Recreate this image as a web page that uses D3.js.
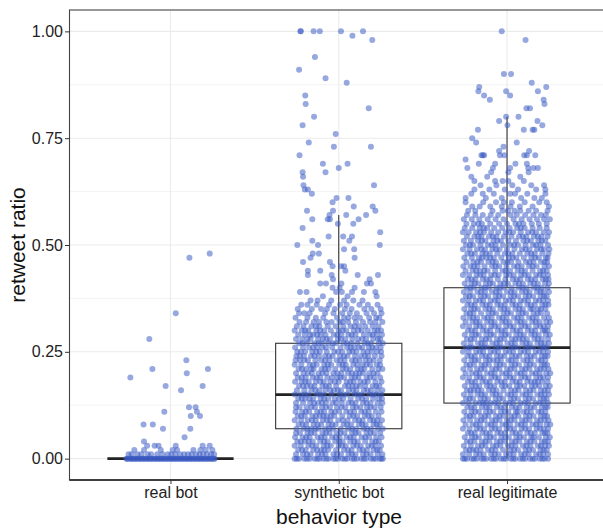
<!DOCTYPE html>
<html>
<head>
<meta charset="utf-8">
<script src="https://cdn.jsdelivr.net/npm/d3@7"></script>
<style>
  body { margin: 0; background: #fff; }
  svg text { font-family: "Liberation Sans", Arial, Helvetica, sans-serif; }
</style>
</head>
<body>
<div id="chart"></div>
<script>
// categories and box statistics
const categories = ["real bot", "synthetic bot", "real legitimate"];
const boxLower  = [0, 0,    0];
const boxQ1     = [0, 0.07, 0.13];
const boxMedian = [0, 0.15, 0.26];
const boxQ3     = [0, 0.27, 0.40];
const boxUpper  = [0, 0.57, 0.80];
const yTicks = [0, 0.25, 0.5, 0.75, 1];
const yMinor = [0.125, 0.375, 0.625, 0.875];

// jittered points: [retweet ratio, [horizontal jitter in % of half width]]
const realBotRows = [
  [0.48, [89]], [0.47, [43]], [0.34, [12]], [0.28, [-48]], [0.23, [36]],
  [0.21, [-41, 85]], [0.20, [37]], [0.19, [-91]], [0.17, [-11, 73]], [0.16, [24]],
  [0.12, [42, 57]], [0.11, [-14, 60]], [0.10, [46, 67]], [0.08, [-61, -40]],
  [0.07, [-17, 45]], [0.05, [32]], [0.04, [-60]],
  [0.03, [-53, -36, -27, 12, 73, 89]],
  [0.02, [-82, -60, -22, 5, 15, 52, 68, 80, 95]],
  [0.01, [-95, -88, -75, -66, -52, -44, -30, -18, -6, 2, 11, 22, 31, 40, 48, 58, 66, 74, 83, 92, 99]],
  [0.00, [-100, -95, -90, -86, -81, -77, -72, -68, -63, -59, -54, -50, -45, -41, -36, -32, -27, -23,
          -18, -14, -9, -5, 0, 4, 9, 13, 18, 22, 27, 31, 36, 40, 45, 49, 54, 58, 63, 67, 72, 76, 81,
          85, 90, 94, 99, -98, -88, -79, -70, -61, -52, -43, -34, -25, -16, -7, 2, 11, 20, 29, 38,
          47, 56, 65, 74, 83, 92, 100]]
];

const syntheticBotRows = [
  [1.00, [-87, -86, -57, -43, 5, 55]], [0.99, [31]], [0.98, [76]], [0.94, [-54]],
  [0.91, [-90]], [0.89, [-30]], [0.88, [18]], [0.85, [-76]], [0.83, [-75]], [0.82, [68]],
  [0.80, [-56]], [0.78, [-82]], [0.76, [-7]], [0.74, [-68]], [0.73, [-11, 73]], [0.71, [-89]],
  [0.69, [-36, 20]], [0.68, [0]], [0.67, [-82, -30]], [0.66, [-81]], [0.64, [-80, 80]],
  [0.63, [-77, -70]], [0.62, [-61]], [0.61, [-5, 22]], [0.60, [-14]], [0.59, [34, 77]],
  [0.58, [-72, -13, 83]], [0.57, [-21, 17, 62]], [0.56, [-60, -25, -20, 45]], [0.55, [-2, 33]],
  [0.54, [-82]], [0.53, [94]], [0.52, [-23, 10, 30]], [0.51, [-60, 24]], [0.50, [-94, -47, 93]],
  [0.49, [12, 35]], [0.48, [-59, -45]], [0.47, [-64, 36]], [0.46, [-81, -20]],
  [0.45, [-14, 5, 12]], [0.44, [-70, -42, 15]], [0.43, [-70, -16, 43, 89]], [0.42, [-13, 70]],
  [0.41, [-42, -29, 6, 64, 73]], [0.40, [-14, 2, 36]], [0.39, [-88, -73, -6, 7, 30, 57, 83]],
  [0.38, [-36, 20, 86]], [0.37, [-64, -48, -17, 12, 33, 54]],
  [0.36, [-85, -50, -22, 3, 18, 47, 66, 88, -71]],
  [0.35, [-93, -61, -40, -9, 14, 29, 58, 74, 95, -27]],
  [0.34, [-78, -66, -31, -12, 8, 25, 41, 63, 80, 97, -90]],
  [0.33, [-98, -71, -52, -35, -4, 12, 36, 48, 69, 85, 92, 22]],
  [0.32, [-89, -74, -57, -28, -16, 2, 21, 39, 55, 71, 83, 99, -45, 9]],
  [0.31, [-95, -80, -62, -44, -25, -7, 10, 27, 46, 60, 77, 90, -52, 36]],
  [0.30, [-100, -84, -69, -51, -33, -18, 0, 17, 34, 52, 66, 81, 96, -76, -42, 9, 44, 88]],
  [0.29, [-92, -77, -58, -41, -30, -11, 6, 22, 38, 57, 70, 86, 98, -65, -49, -3, 29, 77]],
  [0.28, [-97, -83, -64, -47, -36, -20, -2, 15, 31, 44, 62, 78, 89, -71, -28, 5, 53, 94]],
  [0.27, [-90, -72, -55, -38, -24, -6, 11, 28, 42, 59, 73, 91, 100, -13, -82, -46, 19, 66]],
  [0.26, [-99, -81, -67, -49, -29, -15, 4, 19, 35, 53, 68, 84, 95, -58, -37, 27, 46, 76]],
  [0.25, [-94, -76, -60, -43, -27, -10, 8, 24, 40, 56, 75, 87, -86, 65, -51, -2, 31, 96]],
  [0.24, [-96, -79, -63, -45, -31, -14, 3, 20, 37, 50, 67, 82, 97, -88, -55, -22, 12, 59]],
  [0.23, [-88, -70, -53, -40, -21, -5, 13, 30, 47, 61, 79, 93, -98, -78, -31, 4, 38, 70]],
  [0.22, [-100, -85, -66, -50, -33, -17, 1, 16, 33, 54, 71, 86, -58, -25, 9, 42, 63, 94]],
  [0.21, [-91, -74, -57, -39, -23, -8, 9, 26, 43, 58, 76, 90, 99, -62, -83, -31, 17, 51]],
  [0.20, [-97, -80, -61, -46, -28, -12, 6, 21, 39, 55, 69, 88, -70, -37, -3, 30, 47, 79]],
  [0.19, [-93, -75, -59, -42, -26, -3, 12, 29, 45, 63, 80, 94, -15, -84, -50, 4, 37, 71]],
  [0.18, [-99, -84, -68, -52, -34, -19, 0, 18, 34, 49, 66, 83, 97, -76, -42, -9, 26, 58]],
  [0.17, [-90, -72, -55, -37, -22, -6, 14, 31, 48, 60, 77, 92, -81, -63, -29, 22, 40, 85]],
  [0.16, [-95, -78, -62, -44, -30, -11, 5, 23, 40, 57, 73, 87, -2, 99, -53, -19, 32, 65]],
  [0.15, [-100, -86, -69, -50, -35, -16, 2, 19, 36, 52, 70, 85, 96, -77, -43, 11, 44, 78]],
  [0.14, [-92, -76, -58, -41, -24, -9, 10, 27, 44, 62, 78, 91, -84, -66, -33, 1, 53, 98]],
  [0.13, [-97, -81, -65, -47, -29, -14, 7, 22, 38, 55, 72, 88, -56, 99, -38, -6, 30, 63]],
  [0.12, [-89, -73, -54, -38, -20, -4, 15, 32, 49, 64, 81, 95, -97, -62, -29, 6, 40, 72]],
  [0.11, [-98, -83, -67, -49, -33, -17, 1, 17, 35, 51, 68, 84, 97, -75, -41, -9, 26, 59]],
  [0.10, [-93, -77, -60, -43, -27, -10, 8, 25, 42, 59, 75, 90, -35, -85, -52, -18, 33, 67]],
  [0.09, [-100, -85, -70, -52, -36, -19, -1, 20, 37, 54, 71, 87, 98, -61, -27, 9, 46, 79]],
  [0.08, [-91, -74, -57, -40, -23, -7, 11, 28, 46, 61, 79, 93, -82, -48, -15, 19, 53, 86]],
  [0.07, [-96, -80, -63, -46, -31, -13, 4, 21, 39, 56, 73, 89, 100, -53, -71, -22, 30, 64]],
  [0.06, [-88, -71, -55, -37, -21, -5, 13, 30, 45, 63, 80, 94, -97, -63, -29, 4, 38, 72]],
  [0.05, [-99, -82, -66, -48, -32, -15, 2, 18, 34, 52, 69, 85, 97, -74, -40, -7, 26, 60]],
  [0.04, [-94, -77, -59, -42, -25, -8, 9, 26, 43, 60, 76, 91, -68, -86, -33, 1, 35, 84]],
  [0.03, [-100, -86, -69, -51, -34, -18, 0, 16, 33, 50, 67, 83, 96, -60, -26, 8, 41, 75]],
  [0.02, [-92, -75, -58, -40, -24, -6, 12, 29, 47, 64, 79, 93, -33, -83, -49, 21, 55, 87]],
  [0.01, [-97, -81, -64, -47, -30, -12, 5, 22, 38, 55, 72, 88, 99, -72, -38, -4, 30, 63]],
  [0.00, [-100, -90, -78, -66, -55, -44, -35, -23, -12, -2, 8, 19, 30, 41, 51, 62, 73, 84, 93, 100,
          -95, -72, -49, -28, -7, 14, 35, 57, 79, 97]]
];

const realLegitimateRows = [
  [1.00, [-12]], [0.98, [42]], [0.90, [-7, 9]], [0.88, [56]], [0.87, [89, -63]],
  [0.86, [-65, -2, 70]], [0.85, [7, -52]], [0.84, [-39, 83]], [0.83, [85]], [0.82, [44, 52]],
  [0.80, [26, -2]], [0.79, [-18, 69]], [0.78, [1, 80]], [0.77, [-66, 38, 58, 62]],
  [0.75, [-79]], [0.74, [-70, 22]], [0.73, [-8]], [0.72, [50, -18]],
  [0.71, [45, 64, 39, -16, -6, -58, -52, -55]], [0.70, [-94]], [0.69, [-64, -27, 19, 45]],
  [0.68, [-90, -32, 7, 48, 60, 70]], [0.67, [-36, 3, 49]],
  [0.66, [-81, 30, -45]], [0.65, [-27, -10, 3, 38, -74]], [0.64, [-24, 84, 12, -60, 55]],
  [0.63, [-74, 25, 87, -40, 66, -5]], [0.62, [-81, 18, 7, 46, 87, -30, -55]],
  [0.61, [-94, -12, 62, 32, -48, 79]], [0.60, [-54, -25, -7, 11, 73, -94, 40, 90]],
  [0.59, [-79, -12, 8, 58, -62, 29, 95, -38]],
  [0.58, [-72, -33, -10, 17, 30, 66, 92, -88, 49, 2]],
  [0.57, [-91, -72, -37, 22, 77, -55, -20, 8, 41, 60, 88]],
  [0.56, [-98, -80, -63, -44, -26, -8, 15, 33, 51, 68, 84, 97]],
  [0.55, [-92, -75, -57, -38, -18, 0, 19, 37, 56, 72, 90, -65, 27]],
  [0.54, [-96, -79, -62, -45, -29, -11, 6, 23, 40, 58, 74, 90, -53, 31]],
  [0.53, [-100, -87, -70, -52, -36, -20, -3, 14, 31, 48, 66, 83, 95, -61, 5, 57]],
  [0.52, [-91, -74, -58, -41, -24, -7, 10, 27, 44, 61, 78, 92, -65, -32, 36, 70]],
  [0.51, [-98, -82, -66, -49, -31, -14, 3, 20, 37, 54, 71, 87, -57, -22, 46, 79]],
  [0.50, [-93, -77, -60, -43, -26, -9, 8, 25, 42, 59, 76, 93, -35, -84, 16, 66]],
  [0.49, [-100, -85, -68, -50, -33, -17, 0, 17, 34, 51, 68, 84, 96, -58, -25, 42, 77]],
  [0.48, [-90, -73, -56, -39, -22, -5, 12, 29, 46, 63, 80, 94, -81, -48, 3, 55]],
  [0.47, [-97, -80, -64, -47, -30, -13, 4, 21, 38, 55, 72, 88, -57, -38, 13, 64, 92]],
  [0.46, [-92, -76, -59, -42, -25, -8, 9, 26, 43, 60, 77, 91, 1, -67, -33, 51, 85]],
  [0.45, [-99, -83, -67, -51, -34, -18, -1, 16, 33, 50, 67, 85, 95, -75, -26, 24, 58]],
  [0.44, [-94, -78, -61, -44, -27, -10, 7, 24, 41, 58, 75, 90, -70, -52, -3, 33, 82]],
  [0.43, [-100, -86, -69, -53, -36, -19, -2, 15, 32, 49, 66, 82, 93, -61, -28, 6, 40, 74]],
  [0.42, [-89, -72, -55, -38, -21, -4, 13, 30, 47, 64, 81, 94, 22, -80, -46, 55, 88]],
  [0.41, [-96, -81, -65, -48, -32, -15, 2, 19, 36, 53, 70, 86, -73, -39, -7, 27, 61, 95]],
  [0.40, [-91, -75, -58, -41, -24, -7, 10, 27, 44, 61, 78, 92, -50, -83, -16, 35, 69]],
  [0.39, [-98, -84, -67, -50, -34, -17, 0, 17, 34, 51, 68, 83, 95, -59, -25, 9, 43, 76]],
  [0.38, [-93, -77, -60, -43, -26, -9, 8, 25, 42, 59, 76, 90, -85, -51, -18, 16, 50, 84]],
  [0.37, [-100, -87, -71, -54, -37, -20, -3, 14, 31, 48, 65, 82, 93, -28, -62, 5, 39, 73]],
  [0.36, [-90, -73, -56, -39, -22, -5, 12, 29, 46, 63, 80, 94, -81, -47, -14, 20, 54, 87]],
  [0.35, [-97, -82, -66, -49, -32, -15, 2, 19, 36, 53, 70, 87, 58, -74, -40, -6, 28, 77]],
  [0.34, [-92, -76, -59, -42, -25, -8, 9, 26, 43, 60, 77, 91, -84, -33, 1, 35, 69]],
  [0.33, [-99, -85, -68, -52, -35, -18, -1, 16, 33, 50, 67, 84, 95, -44, -77, -10, 24, 58]],
  [0.32, [-94, -78, -62, -45, -28, -11, 6, 23, 40, 57, 74, 89, -70, -36, -3, 31, 65, 98]],
  [0.31, [-100, -86, -70, -53, -36, -19, -2, 15, 32, 49, 66, 83, 93, -62, -28, 7, 41, 75]],
  [0.30, [-89, -72, -55, -38, -21, -4, 13, 30, 47, 64, 81, 92, -80, -46, -12, 22, 56, 86]],
  [0.29, [-96, -80, -64, -47, -30, -13, 4, 21, 38, 55, 72, 88, -71, -37, -4, 30, 63, 97]],
  [0.28, [-91, -74, -57, -40, -23, -6, 11, 28, 45, 62, 79, 93, 36, -82, -48, -15, 19, 70]],
  [0.27, [-98, -83, -66, -50, -33, -16, 1, 18, 35, 52, 69, 85, 95, -58, -24, 10, 44, 77]],
  [0.26, [-93, -77, -60, -43, -26, -9, 8, 25, 42, 59, 76, 90, -85, -52, -18, 16, 50, 83]],
  [0.25, [-100, -87, -70, -54, -37, -20, -3, 14, 31, 48, 65, 82, 93, -62, -29, 5, 39, 73]],
  [0.24, [-90, -73, -57, -40, -23, -6, 11, 28, 45, 62, 79, 92, -81, -48, -14, 20, 54, 86]],
  [0.23, [-97, -81, -65, -48, -31, -14, 3, 20, 37, 54, 71, 87, 10, -73, -40, -22, 46, 78]],
  [0.22, [-92, -75, -58, -41, -24, -7, 10, 27, 44, 61, 78, 91, -84, -50, -16, 18, 52, 85]],
  [0.21, [-99, -84, -68, -51, -34, -17, 0, 17, 34, 51, 68, 84, 94, -25, -59, 8, 42, 76]],
  [0.20, [-94, -79, -62, -45, -28, -11, 6, 23, 40, 57, 74, 89, -70, -36, -2, 31, 65, 98]],
  [0.19, [-100, -86, -69, -53, -36, -19, -2, 15, 32, 49, 66, 82, 93, -61, -27, 7, 41, 75]],
  [0.18, [-89, -72, -56, -39, -22, -5, 12, 29, 46, 63, 80, 92, 70, -80, -47, -13, 21, 55]],
  [0.17, [-96, -80, -63, -46, -29, -12, 5, 22, 39, 56, 73, 88, -71, -38, -4, 30, 64, 97]],
  [0.16, [-91, -75, -58, -41, -24, -8, 9, 26, 43, 60, 77, 93, -66, -83, -32, 18, 52, 85]],
  [0.15, [-98, -83, -67, -50, -33, -16, 1, 18, 35, 52, 69, 85, 95, -58, -25, 9, 43, 77]],
  [0.14, [-93, -77, -60, -43, -26, -9, 8, 25, 42, 59, 76, 90, -85, -51, -17, 16, 50, 84]],
  [0.13, [-100, -87, -71, -54, -37, -20, -3, 14, 31, 48, 65, 82, 93, -48, -62, -28, 6, 40, 74]],
  [0.12, [-90, -74, -57, -40, -23, -6, 11, 28, 45, 62, 79, 92, -81, -47, -14, 20, 54, 87]],
  [0.11, [-97, -81, -64, -48, -31, -14, 3, 20, 37, 54, 71, 87, 24, -72, -39, -5, 45, 78]],
  [0.10, [-92, -76, -59, -42, -25, -8, 9, 26, 43, 60, 77, 91, -84, -50, -17, 17, 51, 85]],
  [0.09, [-99, -84, -68, -51, -34, -17, 0, 17, 34, 51, 68, 85, 94, -59, -26, 8, 42, 76]],
  [0.08, [-94, -78, -61, -44, -27, -10, 7, 24, 41, 58, 75, 90, -36, -70, -2, 32, 66, 98]],
  [0.07, [-100, -85, -69, -52, -35, -18, -1, 16, 33, 50, 67, 83, 93, -61, -27, 7, 41, 75]],
  [0.06, [-89, -73, -56, -39, -22, -5, 12, 29, 46, 63, 80, 92, -81, -47, -14, 20, 54, 86]],
  [0.05, [-96, -80, -64, -47, -30, -13, 4, 21, 38, 55, 72, 88, 60, -72, -38, -4, 29, 97]],
  [0.04, [-91, -74, -57, -40, -23, -6, 11, 28, 45, 62, 79, 93, -83, -49, -15, 19, 53, 86]],
  [0.03, [-98, -82, -66, -49, -32, -15, 2, 19, 36, 53, 70, 86, 95, -57, -24, 10, 44, 77]],
  [0.02, [-93, -77, -60, -43, -26, -9, 8, 25, 42, 59, 76, 90, -70, -85, -35, 16, 50, 83]],
  [0.01, [-100, -86, -70, -53, -36, -19, -2, 15, 32, 49, 66, 82, 93, -62, -28, 6, 40, 74]],
  [0.00, [-100, -91, -80, -69, -58, -47, -36, -25, -14, -3, 8, 19, 30, 41, 52, 63, 74, 85, 93,
          -96, -75, -53, -30, -8, 14, 36, 58, 80]]
];

const pointRows = [realBotRows, syntheticBotRows, realLegitimateRows];

// chart dimensions
const width = 603;
const height = 530;
const panel = { left: 69.5, top: 10, right: 608, bottom: 480 };

const svg = d3.select("#chart")
  .append("svg")
  .attr("width", width)
  .attr("height", height);

// scales
const x = d3.scalePoint()
  .domain(categories)
  .range([panel.left, panel.right])
  .padding(0.6);

const y = d3.scaleLinear()
  .domain([-0.05, 1.05])
  .range([panel.bottom, panel.top]);

const step = x.step();
const jitter = d3.scaleLinear()
  .domain([-100, 100])
  .range([-0.262 * step, 0.262 * step]);

svg.append("clipPath").attr("id", "clip")
  .append("rect")
  .attr("x", panel.left).attr("y", panel.top)
  .attr("width", panel.right - panel.left).attr("height", panel.bottom - panel.top);

const plot = svg.append("g").attr("clip-path", "url(#clip)");

// gridlines
plot.selectAll(".minor").data(yMinor).join("line")
  .attr("x1", panel.left).attr("x2", panel.right)
  .attr("y1", d => y(d)).attr("y2", d => y(d))
  .attr("stroke", "#ebebeb").attr("stroke-width", 0.6);

plot.selectAll(".major").data(yTicks).join("line")
  .attr("x1", panel.left).attr("x2", panel.right)
  .attr("y1", d => y(d)).attr("y2", d => y(d))
  .attr("stroke", "#ebebeb").attr("stroke-width", 1.1);

plot.selectAll(".vgrid").data(categories).join("line")
  .attr("x1", d => x(d)).attr("x2", d => x(d))
  .attr("y1", panel.top).attr("y2", panel.bottom)
  .attr("stroke", "#ebebeb").attr("stroke-width", 1.1);

// boxplots
const boxHalf = 0.375 * step;
const boxes = plot.selectAll(".box").data(categories).join("g");

boxes.append("line")
  .attr("x1", d => x(d)).attr("x2", d => x(d))
  .attr("y1", (d, i) => y(boxQ3[i])).attr("y2", (d, i) => y(boxUpper[i]))
  .attr("stroke", "#333").attr("stroke-width", 1.1);

boxes.append("line")
  .attr("x1", d => x(d)).attr("x2", d => x(d))
  .attr("y1", (d, i) => y(boxQ1[i])).attr("y2", (d, i) => y(boxLower[i]))
  .attr("stroke", "#333").attr("stroke-width", 1.1);

boxes.append("rect")
  .attr("x", d => x(d) - boxHalf)
  .attr("width", 2 * boxHalf)
  .attr("y", (d, i) => y(boxQ3[i]))
  .attr("height", (d, i) => y(boxQ1[i]) - y(boxQ3[i]))
  .attr("fill", "#fff")
  .attr("stroke", "#333").attr("stroke-width", 1.1);

boxes.append("line")
  .attr("x1", d => x(d) - boxHalf).attr("x2", d => x(d) + boxHalf)
  .attr("y1", (d, i) => y(boxMedian[i])).attr("y2", (d, i) => y(boxMedian[i]))
  .attr("stroke", "#222").attr("stroke-width", 2.8);

// jittered points
const points = pointRows.flatMap((rows, i) =>
  rows.flatMap(([value, offsets]) =>
    offsets.map(o => ({ cat: categories[i], value, o }))));

plot.selectAll(".pt").data(points).join("circle")
  .attr("cx", d => x(d.cat) + jitter(d.o))
  .attr("cy", d => y(d.value))
  .attr("r", 3)
  .attr("fill", "#3b5bc5")
  .attr("fill-opacity", 0.53);

// panel border and axes
svg.append("rect")
  .attr("x", panel.left).attr("y", panel.top)
  .attr("width", panel.right - panel.left).attr("height", panel.bottom - panel.top)
  .attr("fill", "none").attr("stroke", "#444").attr("stroke-width", 1.1);

svg.append("line")
  .attr("x1", panel.left).attr("x2", panel.right)
  .attr("y1", panel.bottom).attr("y2", panel.bottom)
  .attr("stroke", "#222").attr("stroke-width", 1.3);

const yAxis = svg.append("g")
  .attr("transform", `translate(${panel.left},0)`)
  .call(d3.axisLeft(y).tickValues(yTicks).tickFormat(d3.format(".2f")).tickSize(4.5).tickPadding(2));
yAxis.select(".domain").remove();
yAxis.selectAll("line").attr("stroke", "#333");
yAxis.selectAll("text").attr("font-size", 16).attr("fill", "#222")
  .attr("font-family", "'Liberation Sans', Arial, sans-serif");

const xAxis = svg.append("g")
  .attr("transform", `translate(0,${panel.bottom})`)
  .call(d3.axisBottom(x).tickSize(4).tickPadding(3));
xAxis.select(".domain").remove();
xAxis.selectAll("line").attr("stroke", "#333");
xAxis.selectAll("text").attr("font-size", 16).attr("fill", "#222")
  .attr("font-family", "'Liberation Sans', Arial, sans-serif");

// axis titles
svg.append("text")
  .attr("x", 339).attr("y", 524)
  .attr("text-anchor", "middle")
  .attr("font-size", 21).attr("fill", "#111")
  .text("behavior type");

svg.append("text")
  .attr("transform", "translate(25,245) rotate(-90)")
  .attr("text-anchor", "middle")
  .attr("font-size", 21).attr("fill", "#111")
  .text("retweet ratio");
</script>
</body>
</html>
